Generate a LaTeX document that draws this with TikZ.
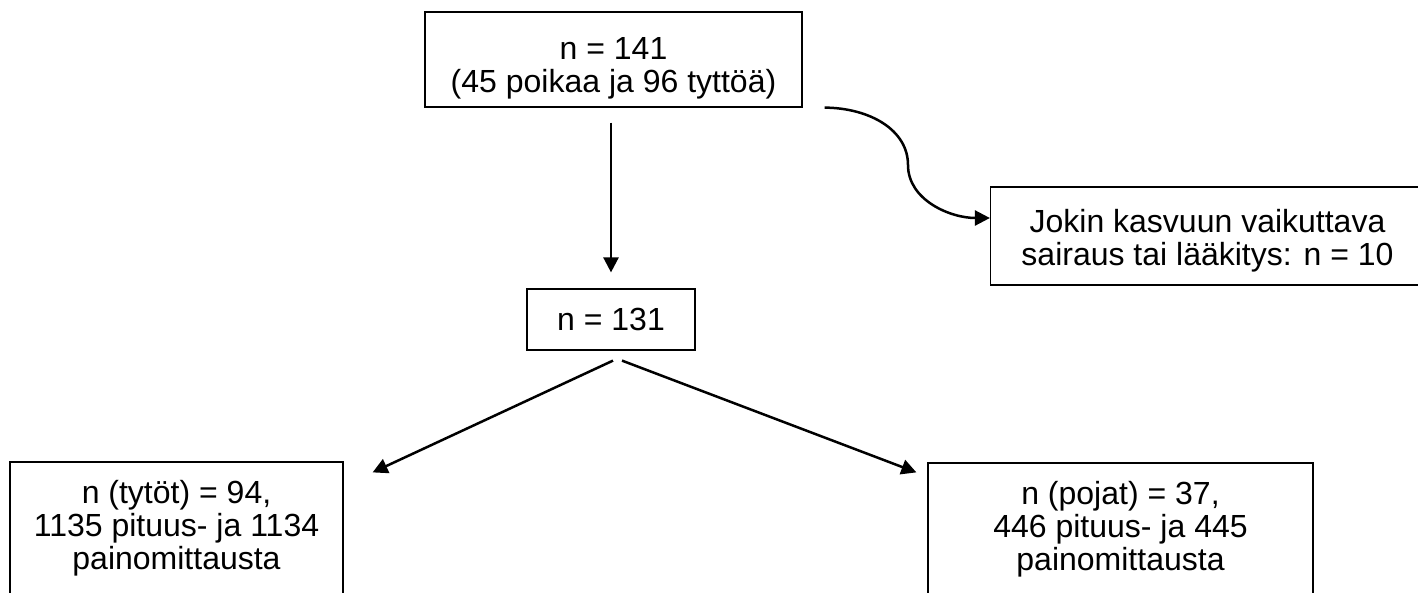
\documentclass[tikz,border=0pt]{standalone}
\usepackage{fontspec}
\setmainfont{Liberation Sans}
\usetikzlibrary{positioning}
\usetikzlibrary{arrows.meta}

\begin{document}
\begin{tikzpicture}[x=1pt, y=-1pt,
  box/.style={draw, line width=1.2pt, align=center, inner sep=0pt,
    font=\fontsize{32}{33}\selectfont},
  arr/.style={line width=2.5pt, -{Triangle[length=15pt, width=15pt]}}]
  \useasboundingbox (0,0) rectangle (1418,592);

  \node[box, minimum width=377pt, minimum height=95pt] (all) at (613.5,59.5)
    {\rule{0pt}{39pt}n = 141\\(45 poikaa ja 96 tyttöä)};
  \node[box, minimum width=434pt, minimum height=98pt] (sick) at (1207.5,236)
    {\rule{0pt}{33pt}Jokin kasvuun vaikuttava\\sairaus tai lääkitys: n = 10};
  \node[box, minimum width=168pt, minimum height=61pt] (mid) at (611,319.5) {n = 131};
  \node[box, minimum width=333pt, minimum height=132pt] (girls) at (176.5,528)
    {n (tytöt) = 94,\\1135 pituus- ja 1134\\painomittausta};
  \node[box, minimum width=385pt, minimum height=132pt] (boys) at (1120.5,529)
    {n (pojat) = 37,\\446 pituus- ja 445\\painomittausta};

  \coordinate (bend) at (908,165);
  \draw[arr, shorten <=15pt, shorten >=16pt] (mid.north |- all.south) -- (mid.north);
  \draw[arr] ([xshift=22pt]all.south east) .. controls (870,108) and (908,130) .. (bend)
    .. controls (908,200) and (950,218) .. ([yshift=18pt]sick.west);

  \draw[arr] ([xshift=2pt,yshift=-10pt]mid.south) -- ([xshift=29pt,yshift=-11pt]girls.north east);
  \draw[arr] ([xshift=11pt,yshift=-10pt]mid.south) -- ([xshift=-11pt,yshift=-10pt]boys.north west);
\end{tikzpicture}
\end{document}
